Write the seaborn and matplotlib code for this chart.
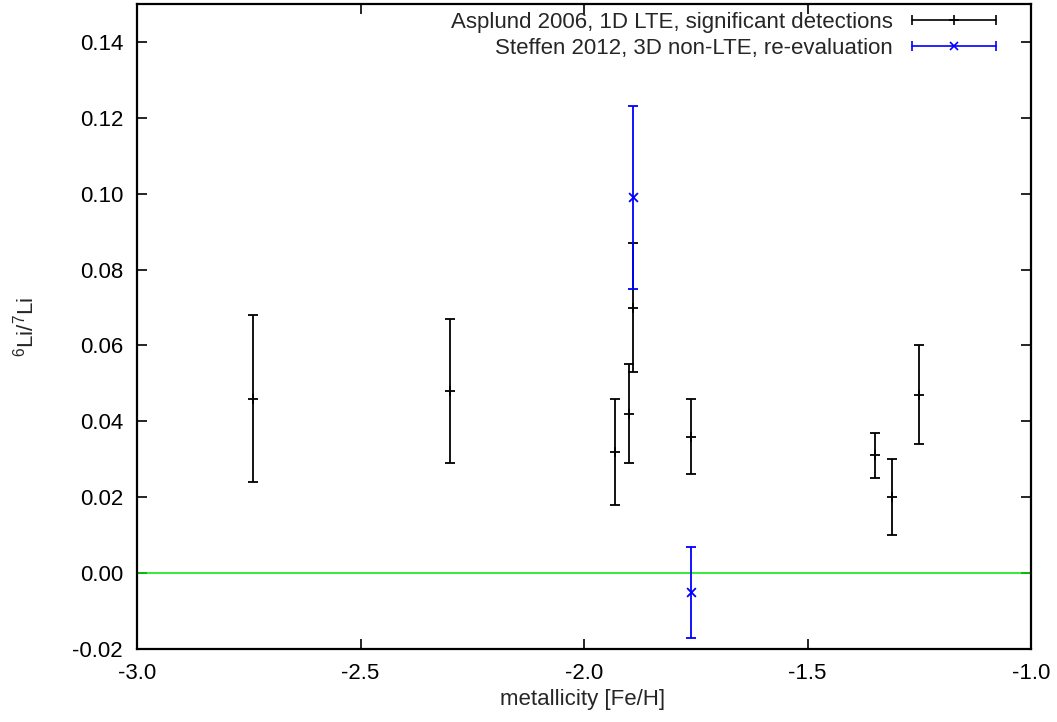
import matplotlib
matplotlib.use("Agg")
import matplotlib.pyplot as plt
import seaborn as sns
import pandas as pd
from matplotlib.lines import Line2D
from matplotlib.legend_handler import HandlerLine2D, HandlerTuple

# Asplund 2006, 1D LTE, significant detections
asp_feh = [-2.74, -2.30, -1.93, -1.90, -1.89, -1.76, -1.35, -1.31, -1.25]
asp_ratio = [0.046, 0.048, 0.032, 0.042, 0.070, 0.036, 0.031, 0.020, 0.047]
asp_err = [0.022, 0.019, 0.014, 0.013, 0.017, 0.010, 0.006, 0.010, 0.013]

# Steffen 2012, 3D non-LTE, re-evaluation
ste_feh = [-1.89, -1.76]
ste_ratio = [0.099, -0.005]
ste_err = [0.024, 0.012]

asp_label = "Asplund 2006, 1D LTE, significant detections"
ste_label = "Steffen 2012, 3D non-LTE, re-evaluation"

xticks = [-3.0, -2.5, -2.0, -1.5, -1.0]
yticks = [-0.02, 0.00, 0.02, 0.04, 0.06, 0.08, 0.10, 0.12, 0.14]

sns.set_style("ticks")
plt.rcParams["font.family"] = ["Liberation Sans", "DejaVu Sans"]
plt.rcParams["mathtext.fontset"] = "custom"
plt.rcParams["mathtext.rm"] = "Liberation Sans"

FS = 16

fig = plt.figure(figsize=(10.57, 7.22), dpi=100)
ax = fig.add_axes([137 / 1057, 1 - 649 / 722, (1031 - 137) / 1057, (649 - 4) / 722])

df_a = pd.DataFrame({"feh": asp_feh, "ratio": asp_ratio, "err": asp_err})
df_s = pd.DataFrame({"feh": ste_feh, "ratio": ste_ratio, "err": ste_err})

black = "#000000"
blue = "#0000ff"
green = "#00e600"

ax.axhline(0.0, color=green, lw=1.1, zorder=1)

ax.errorbar(df_a["feh"], df_a["ratio"], yerr=df_a["err"], fmt="none",
            ecolor=black, elinewidth=1.3, capsize=3.6, capthick=1.3, zorder=2)
sns.scatterplot(data=df_a, x="feh", y="ratio", marker="+", s=50, color=black,
                linewidth=1.3, ax=ax, zorder=3, legend=False)

ax.errorbar(df_s["feh"], df_s["ratio"], yerr=df_s["err"], fmt="none",
            ecolor=blue, elinewidth=1.3, capsize=3.6, capthick=1.3, zorder=2)
sns.scatterplot(data=df_s, x="feh", y="ratio", marker="x", s=40, color=blue,
                linewidth=1.3, ax=ax, zorder=3, legend=False)

ax.set_xlim(-3.0, -1.0)
ax.set_ylim(-0.02, 0.15)
ax.set_xticks(xticks)
ax.set_xticklabels([f"{v:.1f}" for v in xticks])
ax.set_yticks(yticks)
ax.set_yticklabels([f"{v:.2f}" for v in yticks])
ax.tick_params(direction="in", length=7, width=1.2, top=True, right=True,
               labelsize=FS, pad=10, colors="black")
for sp in ax.spines.values():
    sp.set_linewidth(1.6)
    sp.set_color("black")
    sp.set_zorder(5)

ax.set_xlabel("metallicity [Fe/H]", fontsize=FS, va="center")
ax.xaxis.set_label_coords((583 - 137) / 894, (649 - 700) / 645)
ax.set_ylabel(r"$^{6}$Li/$^{7}$Li", fontsize=FS, va="center")
ax.yaxis.set_label_coords((26 - 137) / 894, 0.5)

# gnuplot-style legend keys: horizontal bar with end caps and central marker
def make_handle(color, marker, ms):
    caps = Line2D([], [], color=color, lw=1.2, marker="|", markersize=7, markeredgewidth=1.2)
    mid = Line2D([], [], color=color, lw=0, marker=marker, markersize=ms, markeredgewidth=1.2)
    return caps, mid

c1, m1 = make_handle(black, "+", 7)
c2, m2 = make_handle(blue, "x", 6)
hmap = {c1: HandlerLine2D(numpoints=2), m1: HandlerLine2D(numpoints=1),
        c2: HandlerLine2D(numpoints=2), m2: HandlerLine2D(numpoints=1),
        tuple: HandlerTuple(ndivide=1, pad=0)}
leg = ax.legend([(c1, m1), (c2, m2)], [asp_label, ste_label], handler_map=hmap,
                loc="upper right", bbox_to_anchor=((1003 - 137) / 894, (649 - 12) / 645),
                frameon=False, markerfirst=False, fontsize=FS, handlelength=4.4,
                handletextpad=0.55, borderaxespad=0, borderpad=0, labelspacing=0.22)
for t in leg.get_texts():
    t.set_ha("right")
leg._legend_box.align = "right"

fig.savefig("out.png", dpi=100)
